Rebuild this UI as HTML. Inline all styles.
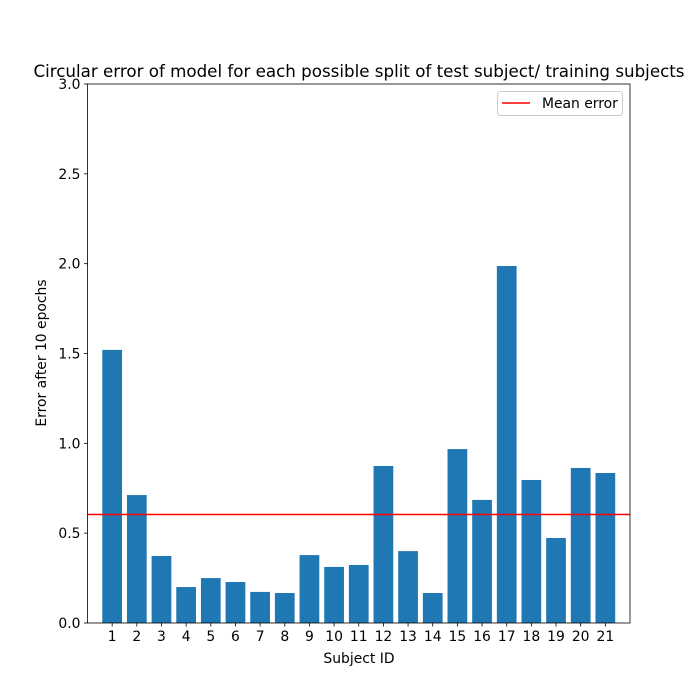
<!DOCTYPE html>
<html><head><meta charset="utf-8"><style>body{margin:0;background:#fff}svg{display:block;font-family:"DejaVu Sans","Liberation Sans",sans-serif}</style></head>
<body>
<svg id="chart" width="700" height="700"></svg>
<script>
const categories=["1","2","3","4","5","6","7","8","9","10","11","12","13","14","15","16","17","18","19","20","21"];
const errors=[1.52,0.712,0.373,0.2,0.25,0.228,0.173,0.167,0.378,0.312,0.323,0.874,0.40,0.167,0.968,0.685,1.987,0.796,0.473,0.863,0.835];
const yTicks=["0.0","0.5","1.0","1.5","2.0","2.5","3.0"];
const meanError=errors.reduce((a,b)=>a+b,0)/errors.length;
const NS="http://www.w3.org/2000/svg";
const svg=document.getElementById('chart');
const L=87.5,R=630,T=84,B=623;
const xS=v=>L+(v/22)*(R-L);
const yS=v=>B-(v/3)*(B-T);
function mk(tag,attrs,parent){const e=document.createElementNS(NS,tag);for(const k in attrs)e.setAttribute(k,attrs[k]);(parent||svg).appendChild(e);return e;}
const bw=0.8*(R-L)/22;
errors.forEach((v,i)=>{
 const r=mk('rect',{x:xS(i+1)-bw/2,y:yS(v),width:bw,height:yS(0)-yS(v),fill:'#1f77b4'});
 
 
 mk('line',{x1:xS(i+1),x2:xS(i+1),y1:B,y2:B+3.5,stroke:'#000','stroke-width':0.8});
 const t=mk('text',{x:xS(i+1),y:B+18,'font-size':13.9,'text-anchor':'middle'});t.textContent=categories[i];
 
 
});
yTicks.forEach(s=>{
 const y=yS(parseFloat(s));
 mk('line',{x1:L-3.5,x2:L,y1:y,y2:y,stroke:'#000','stroke-width':0.8});
 const t=mk('text',{x:L-7,y:y+5,'font-size':13.9,'text-anchor':'end'});t.textContent=s;
 
 
});
const ml=mk('line',{x1:L,x2:R,y1:yS(meanError),y2:yS(meanError),stroke:'#ff0000','stroke-width':1.5});


const fr=mk('rect',{x:L,y:T,width:R-L,height:B-T,fill:'none',stroke:'#000','stroke-width':0.8});


const ti=mk('text',{x:359,y:77,'font-size':16.7,'text-anchor':'middle'});ti.textContent='Circular error of model for each possible split of test subject/ training subjects';


const xl=mk('text',{x:359,y:663,'font-size':13.9,'text-anchor':'middle'});xl.textContent='Subject ID';


const yl=mk('text',{x:0,y:0,'font-size':13.9,'text-anchor':'middle',transform:'translate(46,353) rotate(-90)'});yl.textContent='Error after 10 epochs';


const lg=mk('g',{});


mk('rect',{x:497.5,y:91.5,width:125,height:24,rx:3,fill:'#fff',stroke:'#ccc','stroke-width':1},lg);
mk('line',{x1:502,x2:530,y1:103,y2:103,stroke:'#ff0000','stroke-width':1.5},lg);
const lt=mk('text',{x:542,y:108,'font-size':13.9},lg);lt.textContent='Mean error';


</script>
</body></html>
